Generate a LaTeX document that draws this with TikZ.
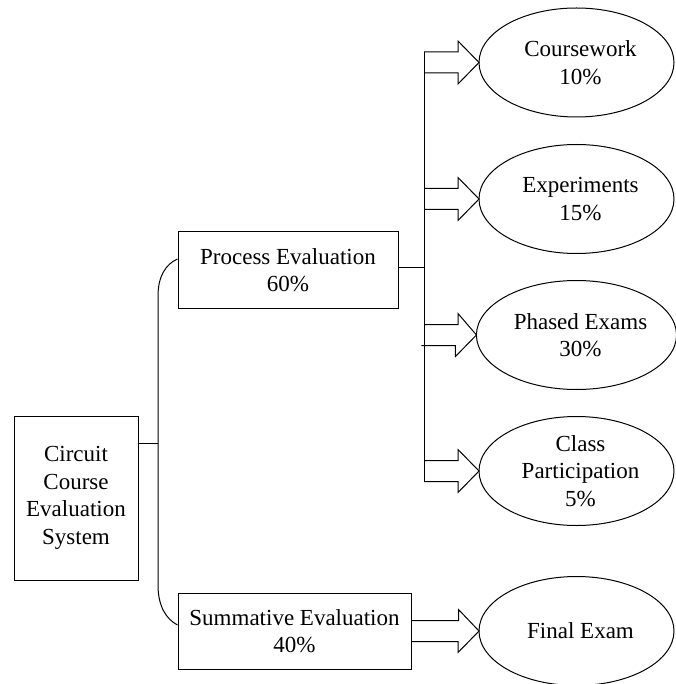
\documentclass[tikz,border=0pt]{standalone}
\usepackage{fontspec}
\setmainfont{Liberation Serif}
\usetikzlibrary{shapes.geometric,calc}
\begin{document}
\begin{tikzpicture}[x=1pt,y=-1pt,
  conn/.style={draw=black,line width=1pt,line join=miter},
  boxnode/.style={draw=black,line width=1pt,rectangle,inner sep=0pt,align=center,
    font=\fontsize{23}{27.5}\selectfont},
  ellnode/.style={draw=black,line width=1pt,ellipse,inner sep=0pt,outer sep=0pt,align=center,
    minimum width=195pt,minimum height=109pt,font=\fontsize{23}{27.5}\selectfont}]
\useasboundingbox (0,0) rectangle (675,684);

% boxes
\node[boxnode,minimum width=124pt,minimum height=164pt] (root) at (76,498) {Circuit\\Course\\Evaluation\\System};
\node[boxnode,minimum width=220pt,minimum height=76pt] (pe) at (288,270) {Process Evaluation\\60\%};
\node[boxnode,minimum width=233pt,minimum height=76pt] (se) at (294.5,631) {Summative Evaluation\\40\%};

% ellipses
\node[ellnode] (cw) at (576.5,62.5) {\hspace*{8pt}Coursework\\\hspace*{8pt}10\%};
\node[ellnode] (ex) at (576.5,199) {\hspace*{8pt}Experiments\\\hspace*{8pt}15\%};
\node[ellnode] (ph) at (576.5,335) {\hspace*{8pt}Phased Exams\\\hspace*{8pt}30\%};
\node[ellnode] (cp) at (576.5,471) {\hspace*{8pt}Class\\\hspace*{8pt}Participation\\\hspace*{8pt}5\%};
\node[ellnode] (fe) at (576.5,631) {\hspace*{8pt}Final Exam};

% spine on the left
\coordinate (spine) at (158,443);
\coordinate (spinetop) at (158,296);
\coordinate (spinebot) at (158,585);
\draw[conn] (root.east |- spine) -- (spine);
\draw[conn] ([yshift=11pt]pe.west) .. controls (166,264) and (158,276) .. (spinetop)
  -- (spinebot) .. controls (158,606) and (166,619) .. ([yshift=6pt]se.west);

% trunk on the right
\coordinate (trunk) at (424,267);
\draw[conn] (pe.east |- trunk) -- (trunk);
\draw[conn] ($(trunk |- cw.west)+(0,-10.5)$) -- ($(trunk |- cp.west)+(0,10.5)$);

% block arrows from the trunk
\foreach \t in {cw,ex,ph,cp}{
  \draw[conn] ($(trunk |- \t.west)+(0,-10.5)$) -- ++(34,0) -- ++(0,-11) -- (\t.west)
    -- ++(-21,21.5) -- ++(0,-11) -- ++(-34,0);
}
% block arrow from summative box
\draw[conn] ($(se.east |- fe.west)+(0,-10.5)$) -- ($(se.east |- fe.west)+(47,-10.5)$) -- ++(0,-11) -- (fe.west)
  -- ++(-21,21.5) -- ++(0,-11) -- ++(-47,0);
\end{tikzpicture}
\end{document}
